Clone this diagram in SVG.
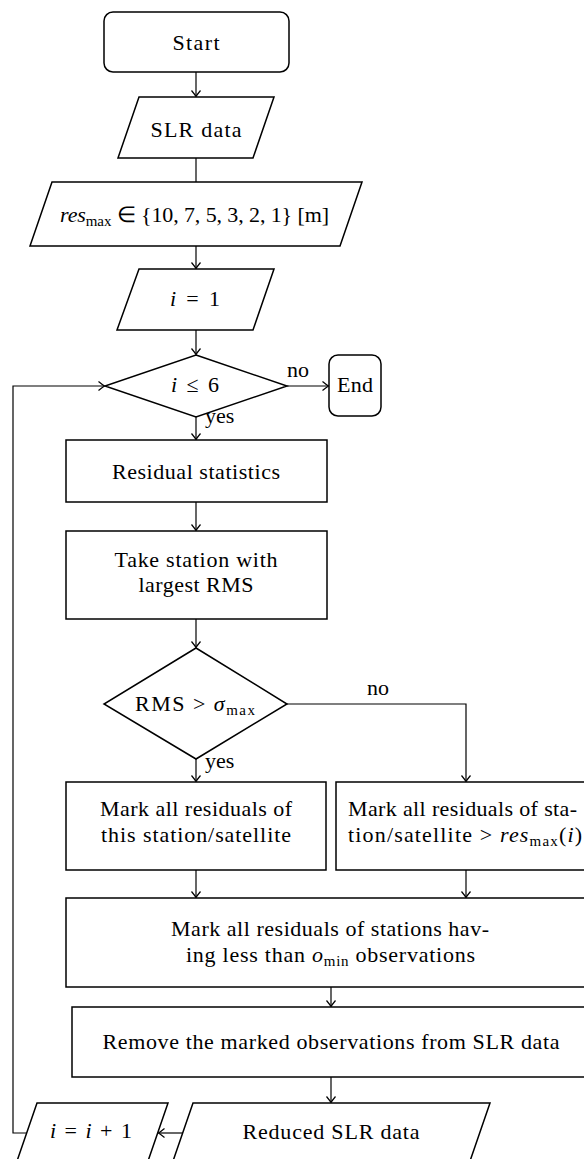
<svg xmlns="http://www.w3.org/2000/svg" width="584" height="1159" viewBox="0 0 584 1159">
<style>
.b{fill:#fff;stroke:#000;stroke-width:1.5}
.c{fill:none;stroke:#000;stroke-width:1.2}
text{font-family:"Liberation Serif","Times New Roman",serif;font-size:22px;fill:#000}
.m{text-anchor:middle}
.it{font-style:italic}
.sb{font-size:15px}
</style>
<defs>
<marker id="ah" markerUnits="userSpaceOnUse" markerWidth="12" markerHeight="12" viewBox="-7 -6 8 12" refX="0" refY="0" orient="auto">
<path d="M-6,-4.5 Q-2,-1.2 0,0 Q-2,1.2 -6,4.5" fill="none" stroke="#000" stroke-width="1.2"/>
</marker>
</defs>
<rect width="584" height="1159" fill="#fff"/>
<g id="connectors">
<path class="c" d="M196,72V96.5" marker-end="url(#ah)"/>
<path class="c" d="M196,158V182"/>
<path class="c" d="M196,246V268.5" marker-end="url(#ah)"/>
<path class="c" d="M196,330V354.5" marker-end="url(#ah)"/>
<path class="c" d="M287,386H328.5" marker-end="url(#ah)"/>
<path class="c" d="M196,417V439.5" marker-end="url(#ah)"/>
<path class="c" d="M196,502V530.5" marker-end="url(#ah)"/>
<path class="c" d="M196,619V647.5" marker-end="url(#ah)"/>
<path class="c" d="M196,759V781.5" marker-end="url(#ah)"/>
<path class="c" d="M287,704H466V781.5" marker-end="url(#ah)"/>
<path class="c" d="M196,870V897.5" marker-end="url(#ah)"/>
<path class="c" d="M466,870V897.5" marker-end="url(#ah)"/>
<path class="c" d="M331,987V1006.5" marker-end="url(#ah)"/>
<path class="c" d="M331,1077V1102.5" marker-end="url(#ah)"/>
<path class="c" d="M182.7,1133H158.5" marker-end="url(#ah)"/>
<path class="c" d="M26.5,1133H13V386H104.5" marker-end="url(#ah)"/>
<text x="287" y="377">no</text>
<text x="205" y="423">yes</text>
<text x="367" y="695">no</text>
<text x="205" y="768">yes</text>
</g>
<g id="start">
<rect class="b" x="104" y="12" width="185" height="60" rx="9"/>
<text class="m" x="196" y="50" textLength="47">Start</text>
</g>
<g id="slr">
<path class="b" d="M139,97H274L253,158H118Z"/>
<text class="m" x="196" y="137" textLength="91">SLR data</text>
</g>
<g id="resmax">
<path class="b" d="M52,182H362L340,246H30Z"/>
<text x="60" y="222" textLength="269"><tspan class="it">res</tspan><tspan class="sb" dy="4">max</tspan><tspan dy="-4"> ∈ {10, 7, 5, 3, 2, 1} [m]</tspan></text>
</g>
<g id="init">
<path class="b" d="M139,269H274L253,330H117Z"/>
<text x="170" y="306" textLength="50"><tspan class="it">i</tspan> = 1</text>
</g>
<g id="cond1">
<path class="b" d="M196,355L287,386L196,417L105,386Z"/>
<text x="171" y="392" textLength="48"><tspan class="it">i</tspan> ≤ 6</text>
</g>
<g id="end">
<rect class="b" x="329" y="355" width="52" height="61" rx="9"/>
<text class="m" x="355" y="392" textLength="36">End</text>
</g>
<g id="resstat">
<rect class="b" x="66" y="440" width="261" height="62"/>
<text class="m" x="196" y="479" textLength="168">Residual statistics</text>
</g>
<g id="takest">
<rect class="b" x="66" y="531" width="261" height="88"/>
<text class="m" x="196" y="567" textLength="163">Take station with</text>
<text class="m" x="196" y="592" textLength="115">largest RMS</text>
</g>
<g id="cond2">
<path class="b" d="M196,648L287,704L196,759L104,704Z"/>
<text x="135" y="711" textLength="120">RMS &gt; <tspan class="it">σ</tspan><tspan class="sb" dy="4">max</tspan></text>
</g>
<g id="markst">
<rect class="b" x="66" y="782" width="260" height="88"/>
<text class="m" x="196" y="816" textLength="192">Mark all residuals of</text>
<text class="m" x="196" y="842" textLength="190">this station/satellite</text>
</g>
<g id="markres">
<rect class="b" x="336" y="782" width="260" height="88"/>
<text x="348" y="816" textLength="229">Mark all residuals of sta-</text>
<text x="348" y="842" textLength="234">tion/satellite &gt; <tspan class="it">res</tspan><tspan class="sb" dy="4">max</tspan><tspan dy="-4">(</tspan><tspan class="it">i</tspan>)</text>
</g>
<g id="markmin">
<rect class="b" x="66" y="898" width="530" height="89"/>
<text class="m" x="330" y="936" textLength="318">Mark all residuals of stations hav-</text>
<text x="186" y="962" textLength="289">ing less than <tspan class="it">o</tspan><tspan class="sb" dy="4">min</tspan><tspan dy="-4"> observations</tspan></text>
</g>
<g id="remove">
<rect class="b" x="72" y="1007" width="518" height="70"/>
<text class="m" x="331" y="1049" textLength="457">Remove the marked observations from SLR data</text>
</g>
<g id="reduced">
<path class="b" d="M193,1103H490L469,1164H172Z"/>
<text class="m" x="331" y="1139" textLength="177">Reduced SLR data</text>
</g>
<g id="incr">
<path class="b" d="M37,1103H168L147,1164H16Z"/>
<text x="50" y="1138" textLength="82"><tspan class="it">i</tspan> = <tspan class="it">i</tspan> + 1</text>
</g>
</svg>
